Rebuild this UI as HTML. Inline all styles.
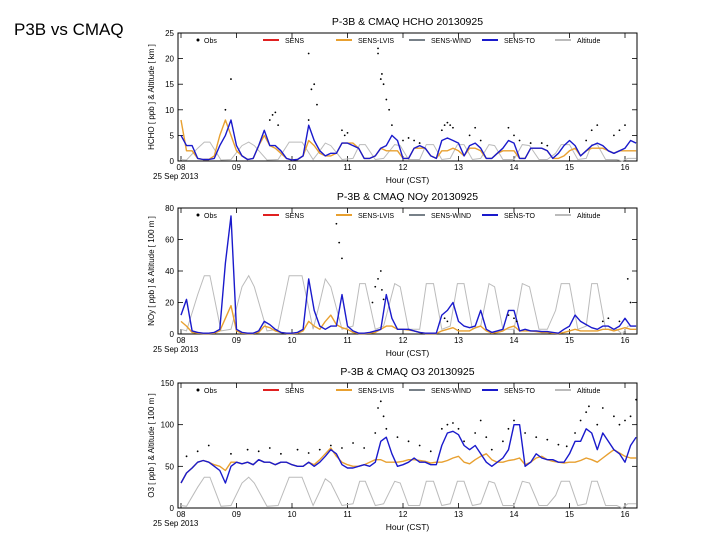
<!DOCTYPE html>
<html><head><meta charset="utf-8">
<style>
body{margin:0;width:720px;height:540px;background:#fff;overflow:hidden;font-family:"Liberation Sans",sans-serif}
#lbl{position:absolute;left:14px;top:20px;font-size:17px;color:#000}
svg{position:absolute;left:0;top:0}
text{font-family:"Liberation Sans",sans-serif}
</style></head><body>
<div id="lbl">P3B vs CMAQ</div>
<svg id="s" width="720" height="540"></svg>
<script>
const hours=['08','09','10','11','12','13','14','15','16'];
const altT=[8.0,8.1,8.3,8.42,8.52,8.72,8.9,9.1,9.22,9.32,9.55,9.75,9.95,10.18,10.38,10.5,10.6,10.7,10.9,11.1,11.22,11.32,11.5,11.65,11.85,11.95,12.1,12.3,12.42,12.55,12.7,12.85,12.98,13.1,13.25,13.4,13.55,13.65,13.8,14.0,14.15,14.28,14.45,14.6,14.75,14.85,15.0,15.15,15.3,15.4,15.5,15.65,15.85,15.95,16.05,16.2];
const altV=[3,2,25,37,37,2,3,30,37,30,2,3,37,37,3,20,35,30,3,5,32,32,3,5,32,30,3,3,32,32,3,5,32,32,3,5,32,30,3,3,32,30,3,3,15,32,32,3,5,32,32,3,3,0,5,5];
const hchoBlue=[5,3,3,0.5,0.3,0.3,0.5,3,5,8,3,1,0.3,0.5,3,6,3,3,2,0.5,0.2,0.3,1,7,4,2,1,1.5,1.5,3.5,3.5,3,2.5,0.5,0.5,1,2.5,3,5,4,0.5,0.5,2.5,3,2.5,1,0.5,4,4.5,4,3.5,1,3,3.5,2.5,0.5,0.5,1.5,2.5,4,3.5,0.5,0.5,2.5,2.5,2.5,2,0.5,1.5,3,4,3,1,2,3,3.5,3,2,1.5,2,2.5,4,3.5];
const hchoOrange=[8,2,2,0.5,0.3,0.3,1,5,8,5,2,1,0.3,0.5,3,5,3,2.5,1.5,0.5,0.2,0.3,1,4,3,1.5,1,1,1.5,3.5,3.5,3.5,2.5,0.5,0.5,1,2.5,2,2,2,0.5,0.5,2.5,2.5,2.5,1,0.5,2,2,2.5,2,1,2.5,2.5,2,0.5,0.5,1.5,2,2,2,0.5,0.5,2.5,2.5,2.5,2,0.5,0.5,1,2,2.5,1,2,2.5,2.5,2.5,2,1.5,2,2,2,2];
const hchoObsT=[8.9,8.8,9.6,9.65,9.7,9.75,10.3,10.35,10.4,10.45,10.9,10.95,11.0,11.55,11.6,11.62,11.65,11.7,11.75,11.8,12.0,12.1,12.2,12.3,12.7,12.75,12.8,12.85,12.9,13.2,13.3,13.4,13.9,14.0,14.1,14.3,14.5,14.6,15.3,15.4,15.5,15.8,15.9,16.0,11.55,10.3];
const hchoObsV=[16,10,8,9,9.5,7,8,14,15,11,6,5,5.5,22,16,17,15,12,10,7,4,4.5,4,3.5,6,7,7.5,7,6.5,5,6.5,4,6.5,5,4,3.5,3.5,3,4,6,7,5,6,7,21,21];
const noxBlue=[12,22,2,1,0.5,0.5,1,3,45,75,3,1,0.5,0.5,2,8,6,3,1,0.5,0.5,1,3,35,15,5,3,5,5,25,5,2,0.5,0.5,1,2,3,25,10,3,3,3,2,1,0.5,0.5,0.5,12,15,20,8,5,4,5,15,3,1,2,3,15,15,2,3,2,2,1.5,1.5,1,0.5,3,5,12,8,6,4,3,5,5,3,5,10,5,5];
const noxOrange=[8,5,1,0.5,0.3,0.3,0.5,2,10,18,2,0.5,0.3,0.3,1,5,4,2,1,0.3,0.3,0.5,2,8,5,3,8,12,6,4,3,1,0.3,0.3,0.5,1,3,5,5,3,3,2.5,2,1,0.3,0.3,0.3,2,3,4,2,2,2,4,5,2,0.5,1,2,4,5,2,2,2,1.5,1,1,0.5,0.3,1,2,3,2,2,2,2,3,3,2,3,4,3,3];
const noxObsT=[10.8,10.85,10.9,11.45,11.5,11.55,11.6,11.62,11.65,12.75,12.8,13.9,14.0,14.05,15.6,15.7,15.9,16.05,16.1];
const noxObsV=[70,58,48,20,30,35,40,28,22,10,8,12,10,8,8,10,8,35,20];
const o3Blue=[30,42,48,55,57,55,50,45,30,50,55,53,55,52,58,55,55,52,55,55,52,50,50,55,50,55,62,70,65,52,48,48,50,52,50,55,80,85,65,50,52,55,60,55,55,52,52,75,90,92,88,75,70,75,65,55,50,55,60,70,100,100,50,55,65,60,58,58,55,55,65,80,80,95,90,70,90,80,70,65,55,75,85];
const o3Orange=[30,42,48,55,57,55,52,50,45,55,55,53,55,52,58,55,55,52,55,55,52,50,50,55,52,58,65,72,62,55,52,50,50,52,55,58,58,55,55,55,56,58,58,57,56,54,55,55,57,60,62,55,53,58,62,65,58,55,55,57,58,60,52,55,60,62,58,56,55,54,55,55,57,60,58,55,60,65,70,66,62,60,60];
const o3ObsT=[8.1,8.3,8.5,8.9,9.2,9.4,9.6,9.8,10.1,10.3,10.5,10.7,10.9,11.1,11.3,11.5,11.55,11.6,11.65,11.7,11.9,12.1,12.3,12.5,12.7,12.8,12.9,13.0,13.1,13.3,13.4,13.5,13.6,13.8,13.9,14.0,14.2,14.4,14.6,14.8,14.95,15.1,15.2,15.3,15.35,15.5,15.6,15.8,15.9,16.0,16.1,16.2];
const o3ObsV=[62,68,75,65,70,68,72,65,70,66,70,75,72,78,72,90,120,128,110,95,85,80,75,68,95,100,102,95,80,90,105,85,70,80,95,105,90,85,82,76,74,90,105,115,122,100,120,110,100,105,110,130];

const NS='http://www.w3.org/2000/svg';
const svg=document.getElementById('s');
function el(tag,attrs,parent,txt){const e=document.createElementNS(NS,tag);for(const k in attrs)e.setAttribute(k,attrs[k]);if(txt!==undefined)e.textContent=txt;(parent||svg).appendChild(e);return e;}
const X0=181,XW=55.5;
function xs(h){return X0+(h-8)*XW;}
function chart(cfg){
  const g=el('g',{},svg);
  
  
  const L=178,R=637,T=cfg.top,B=cfg.bot;
  const ys=v=>B-(v/cfg.max)*(B-T);
  const title=el('text',{x:(L+R)/2,y:T-8,'font-size':10.5,'text-anchor':'middle'},g,cfg.title);
  
  
  el('rect',{x:L,y:T,width:R-L,height:B-T,fill:'none',stroke:'#000','stroke-width':1},g);
  cfg.ticks.forEach(v=>{
    const y=ys(v);
    el('line',{x1:L,x2:L+5,y1:y,y2:y,stroke:'#000','stroke-width':0.8},g);
    el('line',{x1:R,x2:R-5,y1:y,y2:y,stroke:'#000','stroke-width':0.8},g);
    const t=el('text',{x:L-4,y:y+3,'font-size':8,'text-anchor':'end'},g,String(v));
    
    
  });
  hours.forEach((h,i)=>{
    const x=xs(8+i);
    el('line',{x1:x,x2:x,y1:B,y2:B-5,stroke:'#000','stroke-width':0.8},g);
    el('line',{x1:x,x2:x,y1:T,y2:T+5,stroke:'#000','stroke-width':0.8},g);
    const t=el('text',{x:x,y:B+9,'font-size':8,'text-anchor':'middle'},g,h);
    
    
  });
  el('text',{x:153,y:B+18,'font-size':8},g,'25 Sep 2013');
  const xt=el('text',{x:(L+R)/2,y:B+22,'font-size':8.5,'text-anchor':'middle'},g,'Hour (CST)');
  
  
  const yt=el('text',{x:0,y:0,'font-size':8,'text-anchor':'middle',transform:`translate(${L-24},${(T+B)/2}) rotate(-90)`},g,cfg.ytitle);
  
  
  let p=altT.map((t,i)=>`${xs(t).toFixed(1)},${ys(altV[i]*cfg.altScale).toFixed(1)}`).join(' ');
  const a=el('polyline',{points:p,fill:'none',stroke:'#bbb','stroke-width':1},g);
  
  
  const line=(arr,col,nm)=>{
    const pts=arr.map((v,i)=>`${xs(8+i*0.1).toFixed(1)},${ys(Math.min(v,cfg.max)).toFixed(1)}`).join(' ');
    const l=el('polyline',{points:pts,fill:'none',stroke:col,'stroke-width':1.4,'stroke-linejoin':'round'},g);
    
    
  };
  line(cfg.orange,'#e8a030','sens-lvis-line');
  line(cfg.blue,'#1a1acc','sens-to-line');
  cfg.obsT.forEach((t,i)=>{
    const c=el('circle',{cx:xs(t),cy:ys(Math.min(cfg.obsV[i],cfg.max)),r:0.9,fill:'#000'},g);
    
    
  });
  const ly=T+10;
  const items=[['Obs','#000',true],['SENS','#e02020'],['SENS-LVIS','#e8a030'],['SENS-WIND','#778088'],['SENS-TO','#1a1acc'],['Altitude','#bbb']];
  items.forEach((it,i)=>{
    const x=L+12+i*73;
    const lg=el('g',{},g);
    
    
    if(it[2]) el('circle',{cx:x+8,cy:ly-3,r:1.5,fill:'#000'},lg);
    else el('line',{x1:x,x2:x+16,y1:ly-3,y2:ly-3,stroke:it[1],'stroke-width':2},lg);
    el('text',{x:x+(it[2]?14:22),y:ly,'font-size':7},lg,it[0]);
  });
}
chart({name:'hcho-chart',title:'P-3B & CMAQ  HCHO  20130925',top:33,bot:161,max:25,ticks:[0,5,10,15,20,25],ytitle:'HCHO [ ppb ] & Altitude [ km ]',altScale:0.1,blue:hchoBlue,orange:hchoOrange,obsT:hchoObsT,obsV:hchoObsV});
chart({name:'nox-chart',title:'P-3B & CMAQ  NOy  20130925',top:208,bot:334,max:80,ticks:[0,20,40,60,80],ytitle:'NOy [ ppb ] & Altitude [ 100 m ]',altScale:1,blue:noxBlue,orange:noxOrange,obsT:noxObsT,obsV:noxObsV});
chart({name:'o3-chart',title:'P-3B & CMAQ  O3  20130925',top:383,bot:508,max:150,ticks:[0,50,100,150],ytitle:'O3 [ ppb ] & Altitude [ 100 m ]',altScale:1,blue:o3Blue,orange:o3Orange,obsT:o3ObsT,obsV:o3ObsV});
</script>
</body></html>
